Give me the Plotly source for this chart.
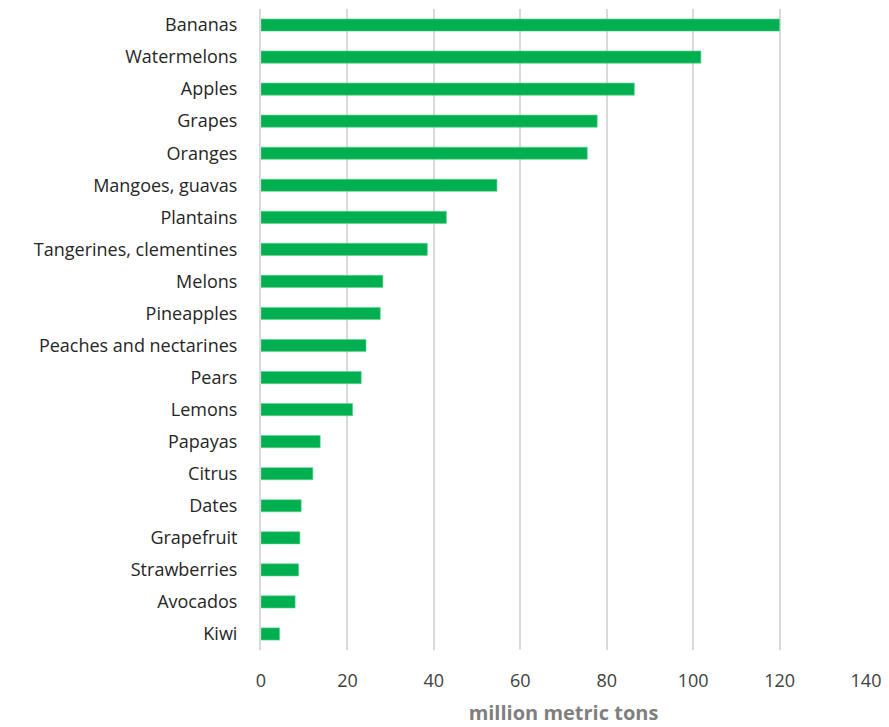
import plotly.graph_objects as go

fruits = ["Bananas", "Watermelons", "Apples", "Grapes", "Oranges", "Mangoes, guavas",
          "Plantains", "Tangerines, clementines", "Melons", "Pineapples",
          "Peaches and nectarines", "Pears", "Lemons", "Papayas", "Citrus", "Dates",
          "Grapefruit", "Strawberries", "Avocados", "Kiwi"]
production = [120.0, 101.8, 86.4, 77.8, 75.5, 54.6, 42.9, 38.5, 28.2, 27.6,
              24.3, 23.2, 21.2, 13.7, 12.0, 9.3, 9.0, 8.7, 7.9, 4.3]
x_ticks = [0, 20, 40, 60, 80, 100, 120, 140]

fig = go.Figure(go.Bar(
    x=production, y=fruits, orientation="h",
    marker=dict(color="#00b050", line=dict(color="#5fd38f", width=0.6)),
    width=0.38,
))

fig.update_layout(
    width=889, height=727,
    margin=dict(l=261, r=23, t=9, b=77),
    paper_bgcolor="white", plot_bgcolor="white",
    font=dict(family="Open Sans, Liberation Sans, sans-serif", size=18, color="#262626"),
    showlegend=False,
)
fig.update_xaxes(
    range=[0, 140], tickvals=x_ticks, showgrid=True, gridcolor="#d9d9d9", gridwidth=2,
    zeroline=False, showline=False, ticks="", ticklabelstandoff=18, automargin=False,
    tickfont=dict(size=18, color="#404040"),
    title=dict(text="<b>million metric tons</b>", font=dict(size=20, color="#7f7f7f"), standoff=14),
)
fig.update_yaxes(
    categoryorder="array", categoryarray=fruits[::-1], autorange=True, automargin=False,
    showline=True, linecolor="#d9d9d9", linewidth=2, ticks="",
    ticklabelstandoff=18, tickfont=dict(size=18, color="#262626"), showgrid=False,
)

fig.write_html("out.html")
